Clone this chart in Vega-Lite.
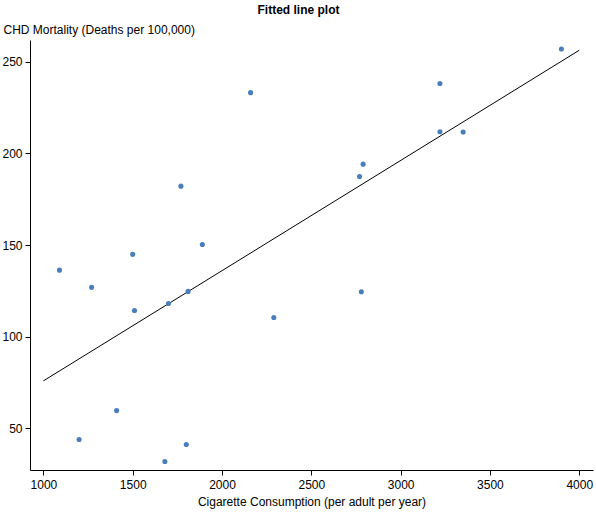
{
  "$schema": "https://vega.github.io/schema/vega-lite/v6.json",
  "autosize": "none",
  "padding": {"left": 30, "top": 40, "right": 3, "bottom": 43},
  "width": 563,
  "height": 430,
  "title": {"text": "Fitted line plot", "font": "Liberation Sans", "fontSize": 12, "fontWeight": "bold", "color": "#000", "anchor": "middle", "dx": -13, "offset": 6},
  "config": {
    "view": {"stroke": null},
    "axis": {"grid": false, "domainColor": "#000", "tickColor": "#000", "labelColor": "#000", "titleColor": "#000", "labelFont": "Liberation Sans", "titleFont": "Liberation Sans", "labelFontSize": 12, "titleFontSize": 12, "titleFontWeight": "normal", "tickSize": 5, "domainWidth": 1}
  },
  "datasets": {
    "pts": [
      {"cig": 3900, "chd": 256.9}, {"cig": 3350, "chd": 211.6}, {"cig": 3220, "chd": 238.1},
      {"cig": 3220, "chd": 211.8}, {"cig": 2790, "chd": 194.1}, {"cig": 2780, "chd": 124.5},
      {"cig": 2770, "chd": 187.3}, {"cig": 2290, "chd": 110.5}, {"cig": 2160, "chd": 233.1},
      {"cig": 1890, "chd": 150.3}, {"cig": 1810, "chd": 124.7}, {"cig": 1800, "chd": 41.2},
      {"cig": 1770, "chd": 182.1}, {"cig": 1700, "chd": 118.1}, {"cig": 1680, "chd": 31.9},
      {"cig": 1510, "chd": 114.3}, {"cig": 1500, "chd": 144.9}, {"cig": 1410, "chd": 59.7},
      {"cig": 1270, "chd": 126.9}, {"cig": 1200, "chd": 43.9}, {"cig": 1090, "chd": 136.3}
    ],
    "fit": [{"cig": 1000, "chd": 75.9}, {"cig": 4000, "chd": 256.2}]
  },
  "layer": [
    {
      "data": {"name": "fit"},
      "mark": {"type": "line", "color": "#000", "strokeWidth": 1},
      "encoding": {
        "x": {"field": "cig", "type": "quantitative"},
        "y": {"field": "chd", "type": "quantitative"}
      }
    },
    {
      "data": {"name": "pts"},
      "mark": {"type": "point", "filled": true, "color": "#4a7ebb", "opacity": 1, "size": 26},
      "encoding": {
        "x": {"field": "cig", "type": "quantitative", "scale": {"domain": [925, 4077], "nice": false, "zero": false},
          "axis": {"title": "Cigarette Consumption (per adult per year)", "format": "d", "values": [1000, 1500, 2000, 2500, 3000, 3500, 4000], "labelPadding": 4, "titlePadding": 6}},
        "y": {"field": "chd", "type": "quantitative", "scale": {"domain": [27.3, 261.8], "nice": false, "zero": false},
          "axis": {"title": "CHD Mortality (Deaths per 100,000)", "format": "d", "values": [50, 100, 150, 200, 250], "titleAngle": 0, "titleAlign": "left", "titleBaseline": "bottom", "titleX": -27, "titleY": -4, "labelPadding": 3}}
      }
    }
  ]
}
